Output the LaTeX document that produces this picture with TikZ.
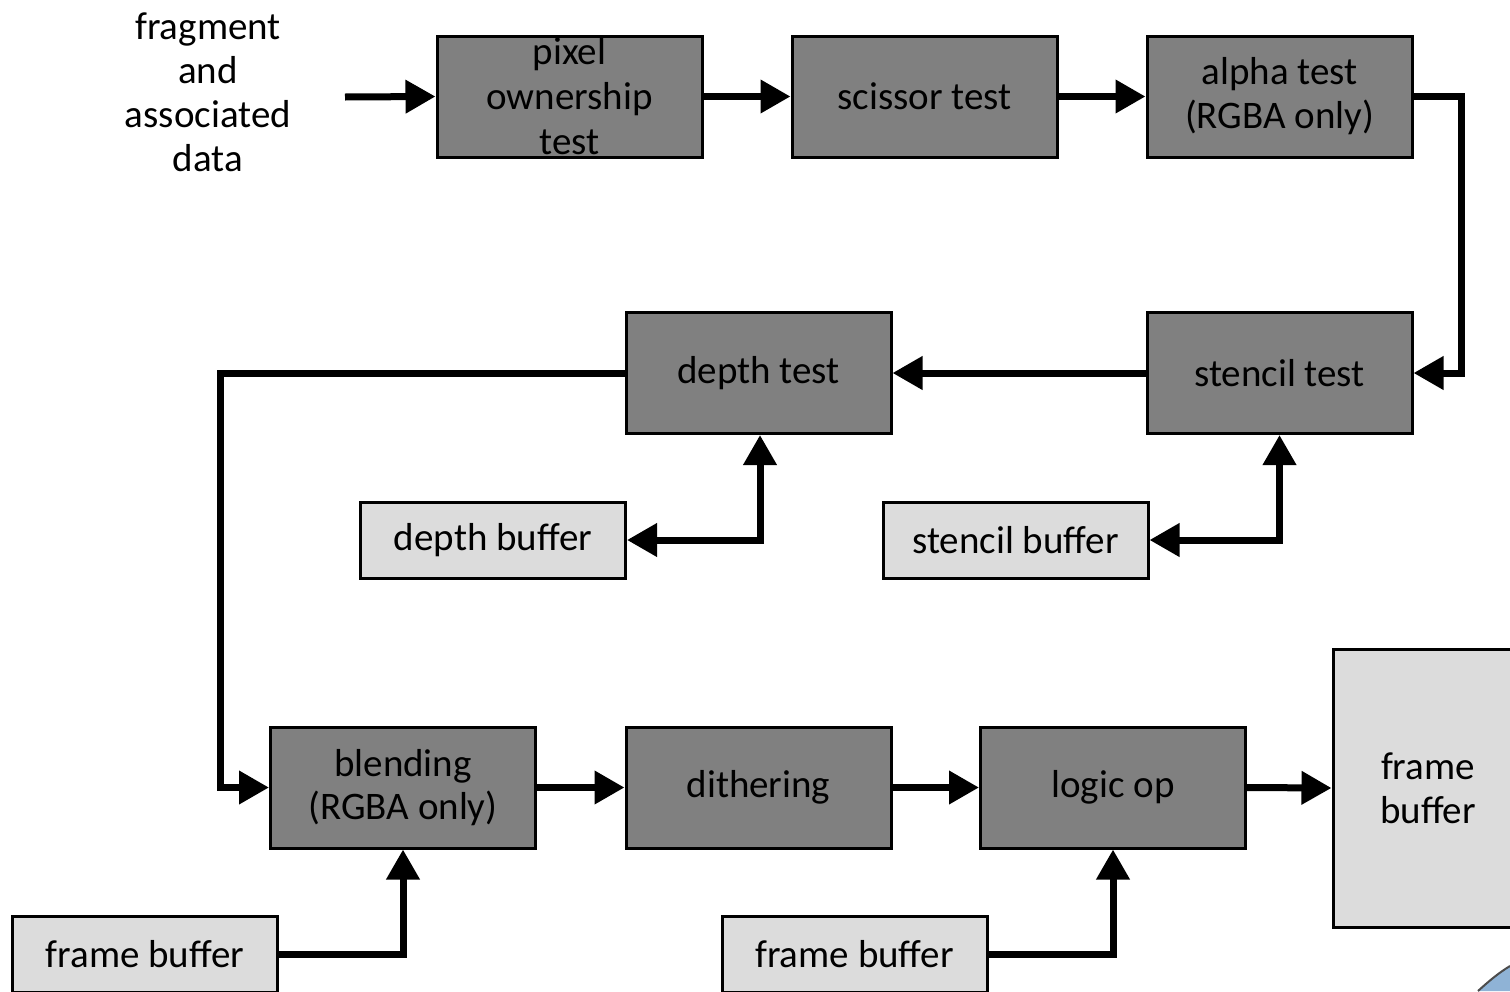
\documentclass[tikz,border=0pt]{standalone}
\usepackage{fontspec}
\setmainfont{Carlito}
\usetikzlibrary{arrows.meta}
\definecolor{darkbox}{HTML}{808080}
\definecolor{lightbox}{HTML}{DCDCDC}
\definecolor{swoosh}{HTML}{8FB3D6}
\begin{document}
\begin{tikzpicture}[x=1pt,y=-1pt,
  txt/.style={font=\fontsize{39}{44}\selectfont, align=center, inner sep=0pt},
  darkstage/.style={txt, draw=black, line width=3pt, fill=darkbox, minimum width=265pt, minimum height=121pt},
  lightstage/.style={txt, draw=black, line width=3pt, fill=lightbox, minimum width=265pt, minimum height=76pt},
  arr/.style={line width=7pt, -{Triangle[length=30pt,width=32pt]}},
  darr/.style={line width=7pt, {Triangle[length=30pt,width=32pt]}-{Triangle[length=30pt,width=32pt]}}
]
\useasboundingbox (0,0) rectangle (1510,991);
\clip (0,0) rectangle (1510,991);
\fill[white] (0,0) rectangle (1510,991);

% input text
\node[txt] (frag) at (208,92) {fragment\\and\\associated\\data};
\coordinate (in) at (345,97);

% top row
\node[darkstage, font=\fontsize{39}{45}\selectfont] (pix) at (569.5,96.5) {pixel\\ownership\\test};
\node[darkstage] (scis) at (924.5,96.5) {scissor test};
\node[darkstage] (alpha) at (1279.5,96.5) {alpha test\\(RGBA only)};

% middle row
\node[darkstage] (stencil) at (1279.5,373) {stencil test};
\node[darkstage] (depth) at (758.5,373) {depth test};
\node[lightstage] (dbuf) at (493,540) {depth buffer};
\node[lightstage] (sbuf) at (1015.5,540) {stencil buffer};

% bottom row
\node[darkstage, font=\fontsize{39}{43}\selectfont] (blend) at (403,787.5) {blending\\(RGBA only)};
\node[darkstage] (dith) at (758.5,787.5) {dithering};
\node[darkstage] (logic) at (1113,787.5) {logic op};
\node[lightstage, minimum width=190pt, minimum height=278pt] (fb) at (1428,788) {frame\\buffer};
\node[lightstage] (fbl) at (145,954) {frame buffer};
\node[lightstage] (fbm) at (854.5,954) {frame buffer};

% connectors
\draw[arr] (in) -- (pix.west);
\draw[arr] (pix.east) -- (scis.west);
\draw[arr] (scis.east) -- (alpha.west);
\draw[arr] (alpha.east) -- ++(48,0) |- (stencil.east);
\draw[arr] (stencil.west) -- (depth.east);
\draw[arr] (depth.west) -- ++(-404.5,0) |- (blend.west);
\draw[darr] (dbuf.east) -| ([xshift=1.5pt]depth.south);
\draw[darr] (sbuf.east) -| (stencil.south);
\draw[arr] (blend.east) -- (dith.west);
\draw[arr] (dith.east) -- (logic.west);
\draw[arr] (logic.east) -- (fb.west);
\draw[arr] (fbl.east) -| (blend.south);
\draw[arr] (fbm.east) -| (logic.south);

% background swoosh fragment (bottom right corner)
\fill[swoosh] (1478,991) .. controls (1490,980) and (1500,972) .. (1510,966) -- (1510,991) -- cycle;
\draw[black!70, line width=2pt] (1478,991) .. controls (1490,980) and (1500,972) .. (1510,966);
\end{tikzpicture}
\end{document}
